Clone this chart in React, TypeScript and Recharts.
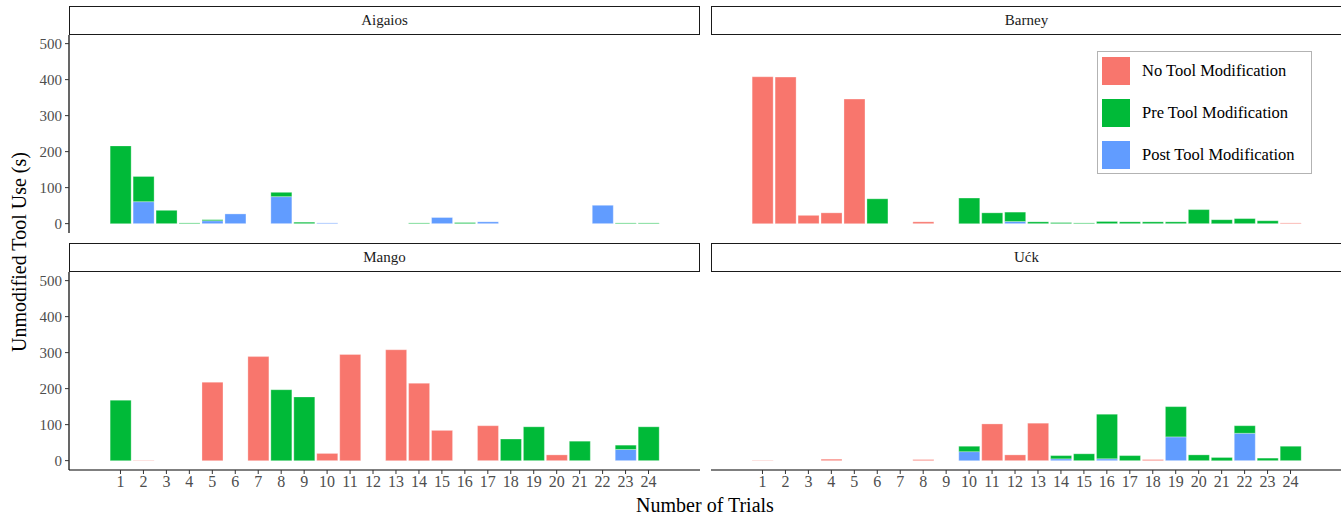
import { BarChart, Bar, XAxis, YAxis } from 'recharts';

// trial numbers on the x axis
const trials = [1, 2, 3, 4, 5, 6, 7, 8, 9, 10, 11, 12, 13, 14, 15, 16, 17, 18, 19, 20, 21, 22, 23, 24];
const yTicks = [0, 100, 200, 300, 400, 500];

// Aigaios
const aigaiosNo = [0, 0, 0, 0, 0, 0, 0, 0, 0, 0, 0, 0, 0, 0, 0, 0, 0, 0, 0, 0, 0, 0, 0, 0];
const aigaiosPre = [216, 70, 37, 2, 3, 0, 0, 12, 4, 0, 0, 0, 0, 2, 0, 3, 0, 0, 0, 0, 0, 0, 2, 2];
const aigaiosPost = [0, 61, 0, 0, 8, 27, 0, 75, 0, 2, 0, 0, 0, 0, 17, 0, 5, 0, 0, 0, 0, 51, 0, 0];

// Barney
const barneyNo = [408, 407, 23, 30, 346, 0, 0, 5, 0, 0, 0, 0, 0, 0, 0, 0, 0, 0, 0, 0, 0, 0, 0, 2];
const barneyPre = [0, 0, 0, 0, 0, 69, 0, 0, 0, 71, 30, 26, 5, 3, 2, 6, 5, 5, 5, 39, 11, 14, 8, 0];
const barneyPost = [0, 0, 0, 0, 0, 0, 0, 0, 0, 0, 0, 6, 0, 0, 0, 0, 0, 0, 0, 0, 0, 0, 0, 0];

// Mango
const mangoNo = [0, 1, 0, 0, 218, 0, 289, 0, 0, 20, 295, 0, 308, 215, 84, 0, 97, 0, 0, 16, 0, 0, 0, 0];
const mangoPre = [168, 0, 0, 0, 0, 0, 0, 197, 177, 0, 0, 0, 0, 0, 0, 0, 0, 60, 94, 0, 54, 0, 12, 94];
const mangoPost = [0, 0, 0, 0, 0, 0, 0, 0, 0, 0, 0, 0, 0, 0, 0, 0, 0, 0, 0, 0, 0, 0, 31, 0];

// Ućk
const uckNo = [1, 0, 0, 4, 0, 0, 0, 3, 0, 0, 102, 16, 104, 0, 0, 0, 0, 3, 0, 0, 0, 0, 0, 0];
const uckPre = [0, 0, 0, 0, 0, 0, 0, 0, 0, 15, 0, 0, 0, 9, 19, 124, 14, 0, 84, 16, 9, 21, 7, 40];
const uckPost = [0, 0, 0, 0, 0, 0, 0, 0, 0, 25, 0, 0, 0, 5, 0, 5, 0, 0, 66, 0, 0, 76, 0, 0];

const seriesNames = ['No Tool Modification', 'Pre Tool Modification', 'Post Tool Modification'];
const seriesColors = ['#F8766D', '#00BA38', '#619CFF'];

const FONT = '"Liberation Serif", "Times New Roman", serif';
const PLOT_H = 198;
const DOMAIN: [number, number] = [-26, 524];

function buildRows(no: number[], pre: number[], post: number[]) {
  return trials.map((t, i) => ({ trial: t, no: no[i], pre: pre[i], post: post[i] }));
}

interface PanelProps {
  title: string;
  no: number[];
  pre: number[];
  post: number[];
  left: boolean;
  bottom: boolean;
}

function Panel({ title, no, pre, post, left, bottom }: PanelProps) {
  const data = buildRows(no, pre, post);
  const top = bottom ? 272 : 35;
  const x = left ? 0 : 711;
  const width = left ? 700 : 631;
  const height = bottom ? PLOT_H + 32 : PLOT_H;

  return (
    <>
      <div
        style={{
          position: 'absolute',
          left: left ? 69 : 711,
          top: top - 29,
          width: 631,
          height: 29,
          boxSizing: 'border-box',
          border: '1.3px solid #1a1a1a',
          background: '#fff',
          display: 'flex',
          alignItems: 'center',
          justifyContent: 'center',
          fontSize: 15,
          color: '#1a1a1a',
        }}
      >
        {title}
      </div>
      <div style={{ position: 'absolute', left: x, top }}>
        <BarChart
          width={width}
          height={height}
          data={data}
          margin={{ top: 0, right: 0, bottom: 0, left: 0 }}
          barCategoryGap="5%"
        >
          <XAxis
            dataKey="trial"
            hide={!bottom}
            height={32}
            padding={{ left: 40, right: 40 }}
            tick={{ fontSize: 16, fill: '#4d4d4d', fontFamily: FONT }}
            tickSize={4}
            tickMargin={2}
            tickLine={{ stroke: '#333' }}
            axisLine={{ stroke: '#000', strokeWidth: 1.2 }}
            interval={0}
          />
          <YAxis
            hide={!left}
            width={69}
            domain={DOMAIN}
            ticks={yTicks}
            allowDataOverflow
            tick={{ fontSize: 15, fill: '#4d4d4d', fontFamily: FONT }}
            tickSize={4}
            tickMargin={3}
            tickLine={{ stroke: '#333' }}
            axisLine={{ stroke: '#000', strokeWidth: 1.2 }}
          />
          <Bar dataKey="post" stackId="s" fill={seriesColors[2]} stroke="#fff" strokeWidth={0.6} strokeOpacity={0.5} isAnimationActive={false} />
          <Bar dataKey="pre" stackId="s" fill={seriesColors[1]} stroke="#fff" strokeWidth={0.6} strokeOpacity={0.5} isAnimationActive={false} />
          <Bar dataKey="no" stackId="s" fill={seriesColors[0]} stroke="#fff" strokeWidth={0.6} strokeOpacity={0.5} isAnimationActive={false} />
        </BarChart>
      </div>
    </>
  );
}

export default function App() {
  return (
    <div
      style={{
        position: 'absolute',
        left: 0,
        top: 0,
        width: 1341,
        height: 517,
        overflow: 'hidden',
        background: '#fff',
        fontFamily: FONT,
      }}
    >
      <Panel title="Aigaios" no={aigaiosNo} pre={aigaiosPre} post={aigaiosPost} left bottom={false} />
      <Panel title="Barney" no={barneyNo} pre={barneyPre} post={barneyPost} left={false} bottom={false} />
      <Panel title="Mango" no={mangoNo} pre={mangoPre} post={mangoPost} left bottom />
      <Panel title="Ućk" no={uckNo} pre={uckPre} post={uckPost} left={false} bottom />

      <svg width={1341} height={517} style={{ position: 'absolute', left: 0, top: 0, pointerEvents: 'none' }}>
        <text
          x={19}
          y={252}
          transform="rotate(-90 19 252)"
          textAnchor="middle"
          dominantBaseline="central"
          fontSize={20}
          fontFamily={FONT}
          fill="#000"
        >
          Unmodified Tool Use (s)
        </text>
        <text x={705} y={512} textAnchor="middle" fontSize={20} fontFamily={FONT} fill="#000">
          Number of Trials
        </text>
      </svg>

      <div
        style={{
          position: 'absolute',
          left: 1097,
          top: 51,
          width: 215,
          height: 123,
          boxSizing: 'border-box',
          border: '1px solid #b3b3b3',
          background: '#fff',
        }}
      >
        {seriesNames.map((name, i) => (
          <div
            key={name}
            style={{
              position: 'absolute',
              left: 4,
              top: 5 + i * 42,
              height: 28,
              display: 'flex',
              alignItems: 'center',
              whiteSpace: 'nowrap',
            }}
          >
            <div style={{ width: 28, height: 28, background: seriesColors[i] }} />
            <span style={{ marginLeft: 12, fontSize: 16.5, color: '#000' }}>{name}</span>
          </div>
        ))}
      </div>
    </div>
  );
}
